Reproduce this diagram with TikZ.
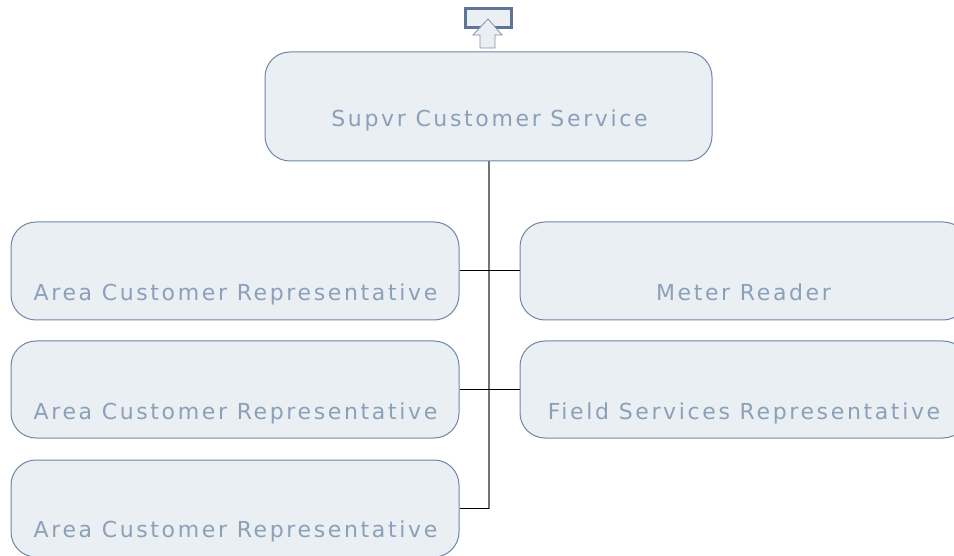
\documentclass[tikz,border=0pt]{standalone}
\usepackage{fontspec}
\setmainfont{DejaVu Sans}[LetterSpace=12]
\definecolor{boxfill}{RGB}{233,239,243}
\definecolor{boxline}{RGB}{112,133,168}
\definecolor{txt}{RGB}{140,160,186}
\definecolor{icon}{RGB}{95,117,150}
\begin{document}
\begin{tikzpicture}[x=1pt,y=-1pt,
  box/.style={draw=boxline,fill=boxfill,line width=1pt,rounded corners=25pt,minimum width=448pt,inner sep=0pt},
  lbl/.style={text=txt,font=\fontsize{22}{26}\selectfont,inner sep=0pt,anchor=base},
  trunk/.style={draw=black!55,line width=2pt},
  branch/.style={draw=black,line width=1pt}]
\useasboundingbox (0,0) rectangle (954,556);
% top icon
\node[draw=icon,fill=boxfill,line width=3pt,minimum width=46pt,minimum height=19pt,inner sep=0pt] (icon) at (488,18.5) {};
\draw[draw=icon!80,fill=boxfill,line width=0.8pt] (488,19) -- (502,35) -- (495,35) -- (495,48) -- (480,48) -- (480,35) -- (473,35) -- cycle;
% boxes
\node[box,minimum width=447pt,minimum height=109pt] (top) at (488.5,106.5) {};
\node[lbl] (ttop) at (489.5,127) {Supvr Customer Service};
\node[box,minimum height=98pt] (l1) at (235,271) {};
\node[lbl] (tl1) at (235.5,301) {Area Customer Representative};
\node[box,minimum height=97pt] (l2) at (235,389.5) {};
\node[lbl] (tl2) at (235.5,419) {Area Customer Representative};
\node[box,minimum height=97pt] (l3) at (235,508.5) {};
\node[lbl] (tl3) at (235.5,537) {Area Customer Representative};
\node[box,minimum height=98pt] (r1) at (744,271) {};
\node[lbl] (tr1) at (743.5,301) {Meter Reader};
\node[box,minimum height=97pt] (r2) at (744,389.5) {};
\node[lbl] (tr2) at (744,419) {Field Services Representative};
% connectors
\coordinate (j3) at (top.south |- l3.east);
\draw[trunk] (top.south) -- (j3);
\draw[branch] (l1.east) -- (r1.west);
\draw[branch] (l2.east) -- (r2.west);
\draw[branch] (l3.east) -- (j3);
\end{tikzpicture}
\end{document}
